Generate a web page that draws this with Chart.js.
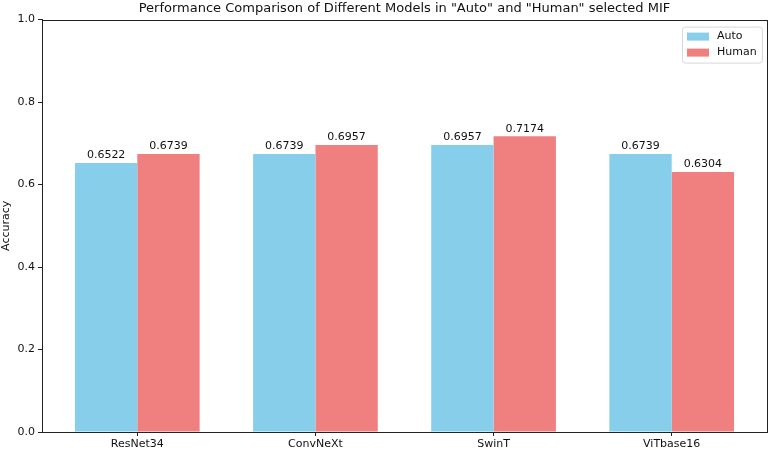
<!DOCTYPE html>
<html>
<head>
<meta charset="utf-8">
<script src="https://cdn.jsdelivr.net/npm/chart.js@4"></script>
<style>
  html, body { margin: 0; padding: 0; background: #fff; }
  #wrap { width: 770px; height: 454px; }
</style>
</head>
<body>
<div id="wrap"><canvas id="myChart" width="770" height="454"></canvas></div>
<script>
const models = ['ResNet34', 'ConvNeXt', 'SwinT', 'ViTbase16'];
const autoAcc = [0.6522, 0.6739, 0.6957, 0.6739];
const humanAcc = [0.6739, 0.6957, 0.7174, 0.6304];
const yTicks = [0.0, 0.2, 0.4, 0.6, 0.8, 1.0];

const FONT = 'DejaVu Sans';
// matplotlib style x limits (bar groups are 0.7 wide, 5% margin)
const X_START = -0.535, X_RANGE = 4.07;

// value labels above each bar
const barLabels = {
    id: 'barLabels',
    afterDatasetsDraw(chart){
        const ctx = chart.ctx;
        ctx.save();
        ctx.font = '11px ' + FONT;
        ctx.fillStyle = '#111';
        ctx.textAlign = 'center';
        ctx.textBaseline = 'bottom';
        chart.data.datasets.forEach((ds, i) => {
            chart.getDatasetMeta(i).data.forEach((bar, j) => {
                ctx.fillText(ds.data[j].toFixed(4), bar.x, bar.y - 2);
            });
        });
        ctx.restore();
    }
};

// box round the plot + legend inside top right
const frameAndLegend = {
    id: 'frameAndLegend',
    afterDraw(chart){
        const ctx = chart.ctx;
        const a = chart.chartArea;
        ctx.save();
        ctx.strokeStyle = '#222';
        ctx.lineWidth = 1;
        ctx.strokeRect(Math.round(a.left) + 0.5, Math.round(a.top) + 0.5,
                       Math.round(a.right - a.left), Math.round(a.bottom - a.top));

        const w = 80, h = 36;
        const x = a.right - w - 5, y = a.top + 7;
        ctx.fillStyle = 'rgba(255,255,255,0.8)';
        ctx.strokeStyle = '#d8d8d8';
        ctx.beginPath();
        ctx.roundRect(x + 0.5, y + 0.5, w, h, 3);
        ctx.fill();
        ctx.stroke();
        ctx.font = '11px ' + FONT;
        ctx.textBaseline = 'middle';
        chart.data.datasets.forEach((ds, i) => {
            const cy = y + 10 + i * 16;
            ctx.fillStyle = ds.backgroundColor;
            ctx.fillRect(x + 5, cy - 4, 22, 8);
            ctx.fillStyle = '#111';
            ctx.fillText(ds.label, x + 35, cy);
        });
        ctx.restore();
    }
};

const data = {
    labels: models,
    datasets: [
        { label: 'Auto', data: autoAcc, backgroundColor: '#87CEEB' },
        { label: 'Human', data: humanAcc, backgroundColor: '#F08080' }
    ]
};

const config = {
    type: 'bar',
    data: data,
    plugins: [barLabels, frameAndLegend],
    options: {
        responsive: false,
        animation: false,
        devicePixelRatio: 1,
        layout: { padding: { top: 0, right: 3, left: 0, bottom: 0 } },
        datasets: { bar: { categoryPercentage: 0.7, barPercentage: 1.0 } },
        plugins: {
            legend: { display: false },
            tooltip: { enabled: false },
            title: {
                display: true,
                fullSize: false,
                text: 'Performance Comparison of Different Models in "Auto" and "Human" selected MIF',
                color: '#111',
                font: { family: FONT, size: 13, weight: 'normal' },
                padding: { top: 1, bottom: 3 }
            }
        },
        scales: {
            x: {
                grid: { display: true, offset: false, drawOnChartArea: false, drawTicks: true, tickLength: 4, color: '#222' },
                border: { display: true, color: '#222' },
                ticks: { color: '#111', font: { family: FONT, size: 11 }, padding: 2 },
                afterFit(scale){ scale.height = 22; },
                afterUpdate(scale){
                    scale._startValue = X_START;
                    scale._valueRange = X_RANGE;
                }
            },
            y: {
                min: 0,
                max: 1,
                afterBuildTicks(scale){ scale.ticks = yTicks.map(v => ({ value: v })); },
                grid: { display: true, drawOnChartArea: false, drawTicks: true, tickLength: 4, color: '#222' },
                border: { display: true, color: '#222' },
                ticks: {
                    color: '#111',
                    font: { family: FONT, size: 11 },
                    padding: 3,
                    callback: v => Number(v).toFixed(1)
                },
                title: {
                    display: true,
                    text: 'Accuracy',
                    color: '#111',
                    font: { family: FONT, size: 11 },
                    padding: { top: 0, bottom: 2 }
                },
                afterFit(scale){ scale.width = 42; }
            }
        }
    }
};

const ctx = document.getElementById('myChart').getContext('2d');
const myChart = new Chart(ctx, config);
</script>
</body>
</html>
